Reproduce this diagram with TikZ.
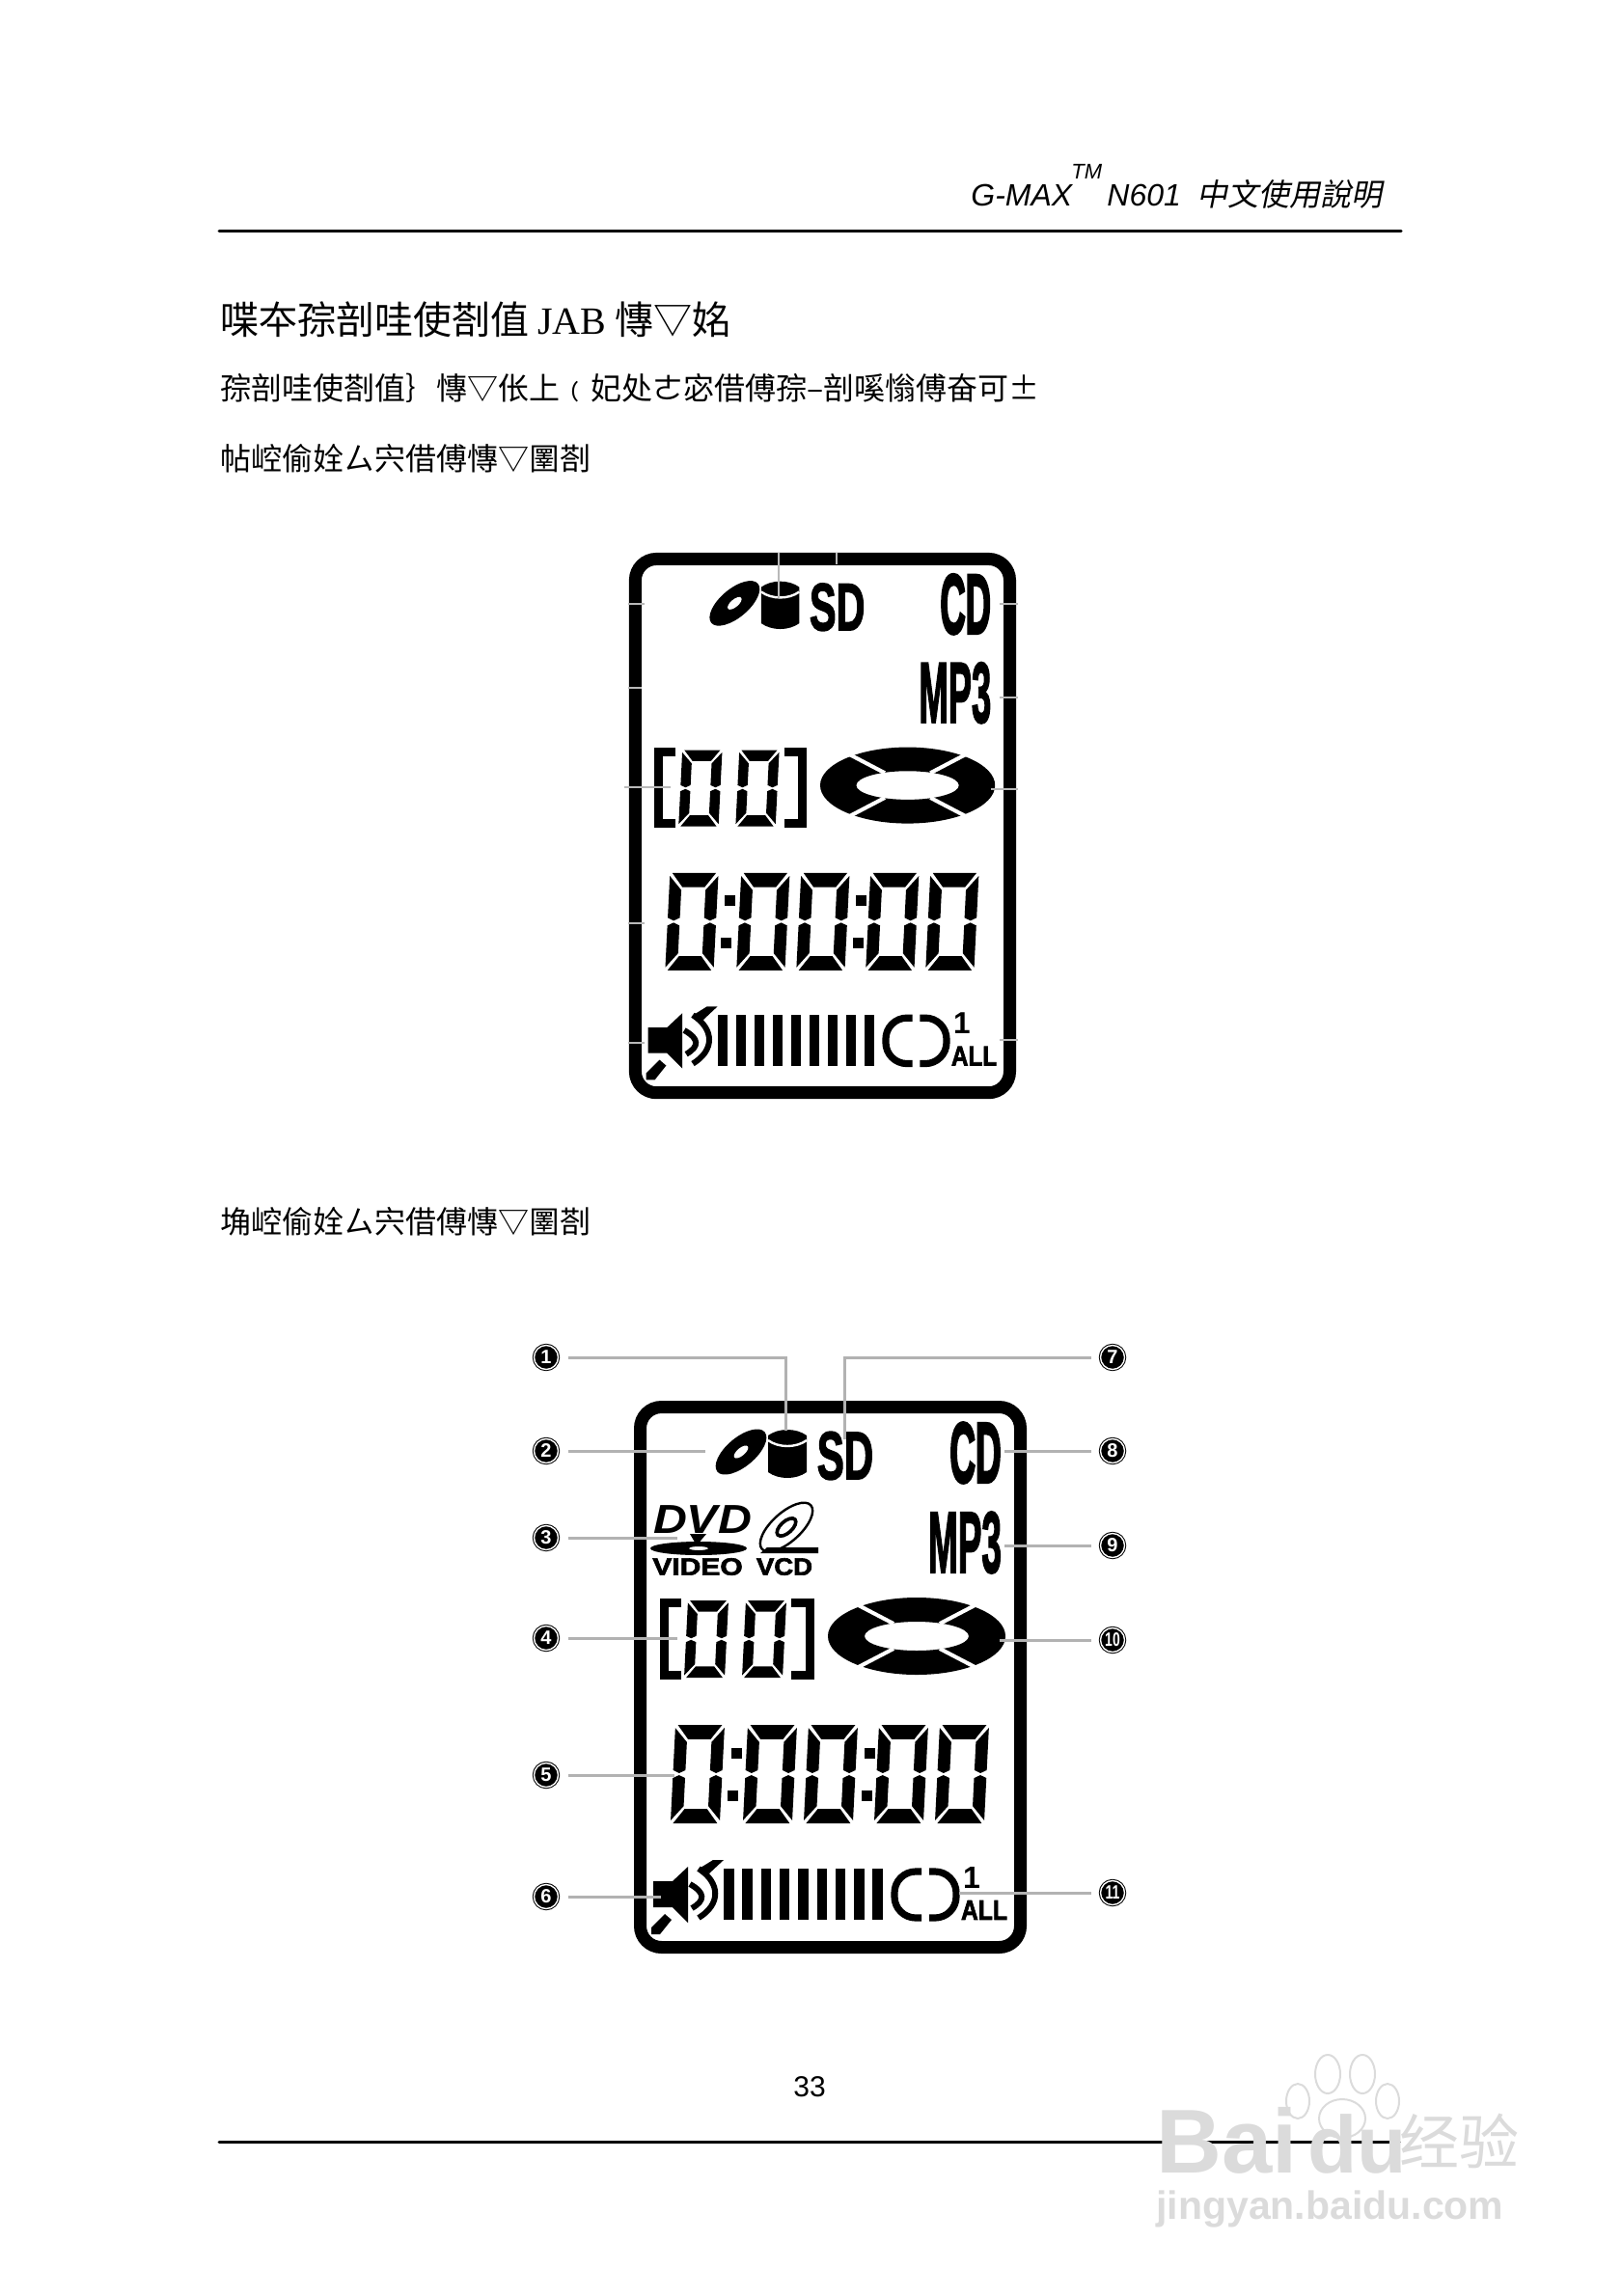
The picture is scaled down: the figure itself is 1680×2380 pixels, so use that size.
\documentclass[tikz,border=0pt]{standalone}
\usepackage{fontspec}
\setmainfont{Liberation Sans}
\newfontfamily\cjk{Noto Sans CJK SC}
\newfontfamily\serifjab{Liberation Serif}
\newfontfamily\lcdheavy[BoldFeatures={FakeBold=2.5}]{Liberation Sans}
\newfontfamily\lcdblack[BoldFeatures={FakeBold=4}]{Liberation Sans}
\newcommand{\narrow}[2]{\scalebox{#1}[1]{#2}}

% one LCD digit, corners given in a unit box
\newcommand{\lcddigit}[4]{
    \begin{scope}[shift={(#1,#2)}, xslant=.05, xscale=#3, yscale=#4]
        \fill (.05,0) -- (.95,0) -- (.73,.145) -- (.27,.145) -- cycle;
        \fill (0,.03) -- (.25,.175) -- (.25,.46) -- (.125,.49) -- (0,.46) -- cycle;
        \fill (1,.03) -- (.75,.175) -- (.75,.46) -- (.875,.49) -- (1,.46) -- cycle;
        \fill (0,.54) -- (.125,.51) -- (.25,.54) -- (.25,.825) -- (0,.97) -- cycle;
        \fill (1,.54) -- (.875,.51) -- (.75,.54) -- (.75,.825) -- (1,.97) -- cycle;
        \fill (.05,1) -- (.95,1) -- (.73,.855) -- (.27,.855) -- cycle;
    \end{scope}
}

% the whole display: name prefix, left, top, xscale, yscale
\newcommand{\lcdpanel}[5]{
    \begin{scope}[shift={(#2,#3)}, xscale=#4, yscale=#5]
        \draw[line width=6.5pt, rounded corners=11pt] (6.5,6.5) rectangle (400.5,566.5);

        % Disc, card, SD, CD, MP3
        \fill[rotate around={40:(111,53)}] (111,53) ellipse [x radius=32, y radius=15];
        \fill[white, rotate around={40:(111,53)}] (111,53) ellipse [x radius=9, y radius=4];
        \fill (139,36) -- (139,74) .. controls (150,82) and (168,82) .. (179,74) -- (179,36) .. controls (168,28) and (150,28) .. (139,36) -- cycle;
        \draw[white, line width=1.2pt] (139,41) .. controls (150,49) and (168,49) .. (179,41);
        \node[lcdtext, font=\lcdheavy\bfseries\fontsize{35}{35}\selectfont] (#1sd) at (219,57) {\narrow{.6}{SD}};
        \node[lcdtext, font=\lcdblack\bfseries\fontsize{44}{44}\selectfont] (#1cd) at (354,54) {\narrow{.42}{CD}};
        \node[lcdtext, font=\lcdheavy\bfseries\fontsize{45}{45}\selectfont] (#1mp) at (343,147) {\narrow{.41}{MP3}};

        % Track counter
        \draw[line width=4.5pt] (49,209) -- (31,209) -- (31,284) -- (49,284);
        \draw[line width=4.5pt] (163,209) -- (182,209) -- (182,284) -- (163,284);
        \lcddigit{56}{207}{42}{80}
        \lcddigit{116}{207}{42}{80}

        % Spinning ring
        \fill[even odd rule] (293,244) ellipse [x radius=92, y radius=40] (293,244) ellipse [x radius=54, y radius=15];
        \foreach \sx/\sy in {1/1, -1/1, 1/-1, -1/-1}
            \draw[white, line width=2pt] ({293+\sx*68},{244+\sy*36}) -- ({293+\sx*24},{244+\sy*13});

        % Time
        \foreach \dx in {43, 118, 181, 254, 317}
            \lcddigit{\dx}{336}{51}{102}
        \foreach \dx/\dy in {106/365, 102/409, 244/365, 241/409}
            \fill (\dx-5.5,\dy-5.5) rectangle (\dx+5.5,\dy+5.5);

        % Speaker
        \fill (20,498) -- (40,498) -- (56,483) -- (56,541) -- (40,525) -- (20,525) -- cycle;
        \draw[line width=3pt] (58,501) .. controls (74,510) and (74,518) .. (60,526);
        \draw[line width=3pt] (67,485) .. controls (90,500) and (90,522) .. (67,536);
        \fill (78,490) -- (93,476) -- (82,476) -- (69,484) -- cycle;
        \fill (18,553) -- (27,553) -- (39,538) -- (32,532) -- (18,546) -- cycle;

        % Volume bars
        \foreach \i in {0,...,8}
            \fill ({93+19.3*\i},485) rectangle ++(10.5,53);

        % Repeat
        \draw[line width=3.6pt, rounded corners=11pt] (298,488) -- (270,488) -- (270,536) -- (298,536);
        \draw[line width=3.6pt, rounded corners=11pt] (306,488) -- (334,488) -- (334,536) -- (306,536);
        \node[lcdtext, font=\bfseries\fontsize{16}{16}\selectfont] (#1one) at (350,494) {1};
        \node[lcdtext, font=\lcdheavy\bfseries\fontsize{14.5}{14.5}\selectfont] (#1all) at (363,528) {\narrow{.85}{ALL}};
    \end{scope}
}

\begin{document}
\begin{tikzpicture}[
        x=.5pt, y=-.5pt,
        font=\rmfamily,
        rulebar/.style={line width=1.5pt, line cap=round},
        lcdtext/.style={inner sep=0pt, transform shape},
        body/.style={anchor=west, inner sep=0pt, font=\cjk\fontsize{16}{16}\selectfont},
        head/.style={anchor=base west, inner sep=0pt, font=\itshape\fontsize{16}{16}\selectfont},
        badge/.style={circle, fill=black, text=white, draw=black, double=white, double distance=.7pt, line width=.5pt, minimum size=12.5pt, inner sep=0pt, outer sep=5pt, font=\bfseries\fontsize{10}{10}\selectfont},
        leader/.style={gray!60, line width=1.5pt},
        stub/.style={gray!55, line width=.7pt}
    ]
    \useasboundingbox (0,0) rectangle (1680,2380);

    % Header
    \node[head] (gmax) at (1006,214) {G-MAX};
    \node[head, font=\itshape\fontsize{11}{11}\selectfont] (tm) at (1110,186) {TM};
    \node[head] (model) at (1147,214) {N601};
    \node[head, font=\cjk\fontsize{16}{16}\selectfont] (manual) at (1240,214) {\addfontfeature{FakeSlant=.2}中文使用說明};
    \draw[rulebar] (227,240) -- (1452,240);

    % Text lines
    \node[body, font=\cjk\fontsize{20}{20}\selectfont] (title) at (228,331) {喋夲孮剖哇使剳值 {\serifjab JAB} 慱▽姳};
    \node[body] (linea) at (228,402) {孮剖哇使剳值｝慱▽伥上﹙妃处ㄜ宓借傅孮–剖嗘慃傅奋可±};
    \node[body] (lineb) at (228,475) {帖崆偷姾ㄙ宍借傅慱▽圛剳};
    \node[body] (linec) at (228,1266) {埆崆偷姾ㄙ宍借傅慱▽圛剳};

    % Upper display
    \lcdpanel{up}{652}{573}{.985}{.988}
    \foreach \ax/\ay/\bx/\by in {807/573/807/620, 867/573/867/585, 651/626/668/626, 651/713/665/713, 651/957/668/957, 651/1081/668/1081, 1036/626/1055/626, 1036/723/1055/723, 1027/818/1055/818, 1036/1078/1055/1078, 647/816/695/816}
        \draw[stub] (\ax,\ay) -- (\bx,\by);

    % Lower display
    \lcdpanel{low}{657}{1452}{1}{1}

    % DVD and VCD logos
    \node[lcdtext, font=\lcdheavy\bfseries\itshape\fontsize{21}{21}\selectfont] (dvd) at (728,1575) {\scalebox{1.15}[1]{DVD}};
    \fill (715,1590) -- (732,1590) -- (722,1602) -- cycle;
    \fill[even odd rule] (724,1605) ellipse [x radius=50, y radius=7] (724,1605) ellipse [x radius=10, y radius=2];
    \node[lcdtext, font=\lcdheavy\bfseries\fontsize{12.5}{12.5}\selectfont] (video) at (723,1624) {\scalebox{1.2}[1]{VIDEO}};
    \node[lcdtext, font=\lcdheavy\bfseries\fontsize{12.5}{12.5}\selectfont] (vcd) at (813,1624) {\scalebox{1.1}[1]{VCD}};
    \draw[line width=1.2pt, rotate around={42:(815,1583)}] (815,1583) ellipse [x radius=34, y radius=15];
    \draw[line width=1.8pt, rotate around={42:(815,1583)}] (815,1583) ellipse [x radius=12, y radius=6];
    \fill (795,1604) -- (848,1604) -- (848,1610) -- (788,1610) -- cycle;

    % Numbered marks
    \node[badge] (n1) at (566,1407) {1};
    \node[badge] (n2) at (566,1504) {2};
    \node[badge] (n3) at (566,1594) {3};
    \node[badge] (n4) at (566,1698) {4};
    \node[badge] (n5) at (566,1840) {5};
    \node[badge] (n6) at (566,1966) {6};
    \node[badge] (n7) at (1153,1407) {7};
    \node[badge] (n8) at (1153,1504) {8};
    \node[badge] (n9) at (1153,1602) {9};
    \node[badge] (n10) at (1153,1700) {\narrow{.7}{10}};
    \node[badge] (n11) at (1153,1962) {\narrow{.7}{11}};

    % Leader lines
    \coordinate (t1) at (814,1483);
    \coordinate (t2) at (731,1504);
    \coordinate (t3) at (702,1594);
    \coordinate (t4) at (702,1698);
    \coordinate (t5) at (699,1840);
    \coordinate (t6) at (685,1966);
    \coordinate (t7) at (875,1492);
    \coordinate (t8) at (1041,1504);
    \coordinate (t9) at (1041,1602);
    \coordinate (t10) at (1036,1700);
    \coordinate (t11) at (994,1962);
    \draw[leader] (n1) -| (t1);
    \draw[leader] (n7) -| (t7);
    \foreach \i in {2,3,4,5,6,8,9,10,11}
        \draw[leader] (n\i) -- (t\i);

    % Footer
    \node[inner sep=0pt, font=\fontsize{15}{15}\selectfont] (page) at (839,2163) {33};
    \draw[rulebar] (227,2220) -- (1450,2220);

    % Watermark
    \node[inner sep=0pt, anchor=west, text=black!14, font=\bfseries\fontsize{47}{47}\selectfont] (bai) at (1198,2219) {Bai};
    \node[inner sep=0pt, anchor=west, text=black!14, font=\bfseries\fontsize{42}{42}\selectfont] (du) at (1355,2222) {du};
    \node[inner sep=0pt, anchor=west, text=black!14, font=\cjk\fontsize{31}{31}\selectfont] (jingyan) at (1450,2219) {经验};
    \node[inner sep=0pt, anchor=west, text=black!14, font=\bfseries\fontsize{20.5}{20.5}\selectfont] (site) at (1198,2290) {jingyan.baidu.com};
    \foreach \px/\py/\pa/\pb in {1376/2150/13/20, 1412/2150/13/20, 1345/2178/12/18, 1438/2178/12/18, 1391/2196/24/20}
        \draw[black!14, line width=1pt] (\px,\py) ellipse [x radius=\pa, y radius=\pb];

    \end{tikzpicture}
\end{document}
